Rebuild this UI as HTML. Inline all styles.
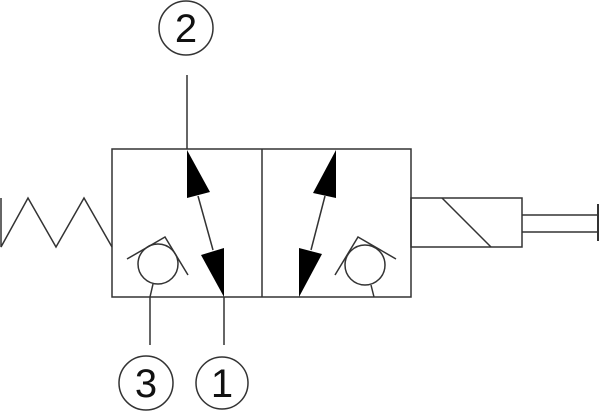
<!DOCTYPE html>
<html><head><style>html,body{margin:0;padding:0;background:#fff}svg{display:block}</style></head>
<body>
<svg width="600" height="417" viewBox="0 0 600 417" xmlns="http://www.w3.org/2000/svg">
<g fill="none" stroke="#333" stroke-width="1.5">
<rect x="112" y="149" width="299" height="148"/>
<line x1="262" y1="149" x2="262" y2="297"/>
<rect x="411" y="198" width="111" height="49"/>
<line x1="442" y1="198" x2="491" y2="247"/>
<line x1="522" y1="215" x2="598" y2="215"/>
<line x1="522" y1="232" x2="598" y2="232"/>
<line x1="598" y1="204" x2="598" y2="241" stroke-width="2"/>
<polyline points="1,198 1,247 28,198 56,247 84,198 112,247"/>
<line x1="187" y1="75" x2="187" y2="149"/>
<line x1="150" y1="297" x2="150" y2="345"/>
<line x1="224" y1="297" x2="224" y2="345"/>
<line x1="198" y1="196" x2="213" y2="250"/>
<line x1="325" y1="196" x2="311" y2="250"/>
<circle cx="158" cy="264" r="20"/>
<polyline points="127,259 165,237 188,275"/>
<line x1="153" y1="284" x2="150" y2="297"/>
<circle cx="365" cy="265" r="20"/>
<polyline points="335,275 358,237 396,259"/>
<line x1="371" y1="285" x2="374" y2="297"/>
<circle cx="186" cy="28" r="27"/>
<circle cx="146" cy="383" r="27"/>
<circle cx="222" cy="383" r="26"/>
</g>
<g fill="#000">
<polygon points="187,150 187,198 210,192"/>
<polygon points="201,255 224,248 224,297"/>
<polygon points="336,150 313,193 336,198"/>
<polygon points="299,297 299,248 322,254"/>
</g>
<g font-family="Liberation Sans, sans-serif" font-size="40" text-anchor="middle" fill="#111">
<text x="186" y="42">2</text>
<text x="146" y="397">3</text>
<text x="222" y="397">1</text>
</g>
</svg>
</body></html>
